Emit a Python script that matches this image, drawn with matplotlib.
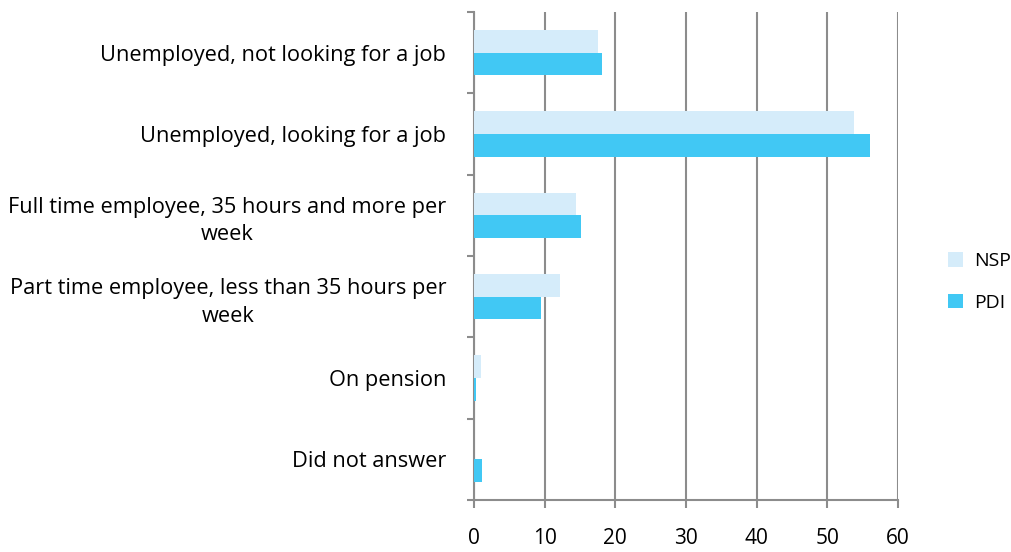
import numpy as np
import matplotlib.pyplot as plt
from matplotlib.ticker import FixedLocator

plt.rcParams['font.family'] = ['Open Sans', 'DejaVu Sans']

categories = [
    'Unemployed, not looking for a job',
    'Unemployed, looking for a job',
    'Full time employee, 35 hours and more per\nweek',
    'Part time employee, less than 35 hours per\nweek',
    'On pension',
    'Did not answer',
]
nsp = [17.5, 53.8, 14.5, 12.2, 1.0, 0.0]
pdi = [18.1, 56.0, 15.1, 9.5, 0.3, 1.2]

nsp_color = '#D5ECFA'
pdi_color = '#41C8F4'
grid_color = '#8C8C8C'

fig = plt.figure(figsize=(10.12, 5.52), dpi=100)
ax = fig.add_axes([474 / 1012, 52 / 552, 424 / 1012, 488 / 552])

# top category at the top
y = np.arange(len(categories))[::-1]
h = 0.28
ax.barh(y + h / 2, nsp, height=h, color=nsp_color, label='NSP', zorder=3)
ax.barh(y - h / 2, pdi, height=h, color=pdi_color, label='PDI', zorder=3)

ax.set_xlim(0, 60)
ax.set_ylim(-0.5, len(categories) - 0.5)
ax.set_xticks(range(0, 61, 10))
ax.xaxis.grid(True, color=grid_color, linewidth=1.5, zorder=0)

ax.set_yticks(y)
ax.set_yticklabels(categories, multialignment='center', linespacing=1.4)
ax.yaxis.set_minor_locator(FixedLocator(np.arange(-0.5, len(categories), 1.0)))
ax.tick_params(axis='y', which='major', length=0, pad=20, labelsize=15.7)
ax.tick_params(axis='y', which='minor', length=5, width=1.5, color=grid_color)
ax.tick_params(axis='x', length=6, width=1.5, color=grid_color, pad=14, labelsize=15)

for s in ['top', 'right']:
    ax.spines[s].set_visible(False)
for s in ['left', 'bottom']:
    ax.spines[s].set_color(grid_color)
    ax.spines[s].set_linewidth(1.5)

fig.legend(loc='center left', bbox_to_anchor=(948 / 1012, 1 - 282 / 552), frameon=False,
           fontsize=14, handlelength=0.75, handleheight=0.75, handletextpad=0.6,
           labelspacing=1.2, borderpad=0, borderaxespad=0)

fig.savefig('out.png', dpi=100)
